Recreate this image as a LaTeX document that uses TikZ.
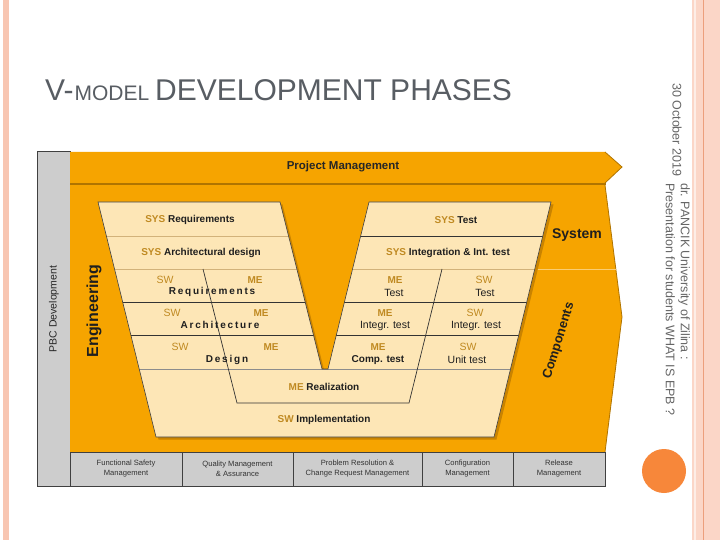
\documentclass[tikz,border=0pt]{standalone}
\usepackage{fontspec}
\setmainfont{Liberation Sans}
\usetikzlibrary{calc}
\definecolor{vorange}{HTML}{F6A400}
\definecolor{vdark}{HTML}{B07400}
\definecolor{vshadow}{HTML}{C98300}
\definecolor{vlight}{HTML}{FDE6B6}
\definecolor{vgold}{HTML}{C08A22}
\definecolor{vgray}{HTML}{CDCDCD}
\definecolor{vtitle}{HTML}{585D63}
\definecolor{vpink}{HTML}{F8C6B2}
\definecolor{vpinkl}{HTML}{FBD6C7}
\definecolor{vpinkd}{HTML}{EC9F7C}
\definecolor{vcircle}{HTML}{F7873A}
\definecolor{vtan}{HTML}{D2B27A}
\newcommand{\gd}[1]{\textcolor{vgold}{#1}}
\newcommand{\vshapepath}{(98,202) -- (280,202) -- (322,369) -- (328,369) -- (369,202) -- (551,202) -- (494,437) -- (156,437) -- cycle}
\tikzset{
  vt/.style={font=\fontsize{10}{12}\selectfont\bfseries, inner sep=0, text=black!88},
  vr/.style={font=\fontsize{10.5}{12}\selectfont, inner sep=0, text=black!88},
  vg/.style={font=\fontsize{10}{12}\selectfont\bfseries, inner sep=0, text=vgold},
  vgr/.style={font=\fontsize{10.5}{12}\selectfont, inner sep=0, text=vgold},
  vs/.style={font=\fontsize{10}{12}\selectfont\bfseries\addfontfeatures{LetterSpace=18}, inner sep=0, text=black!88},
  bbox/.style={draw=black!75, line width=1, fill=vgray, inner sep=0, align=center,
    minimum height=34, text=black!80, font=\fontsize{7.6}{10}\selectfont},
  tanline/.style={draw=vtan, line width=0.7},
  darkline/.style={draw=black!80, line width=0.7},
}
\begin{document}
\begin{tikzpicture}[x=1pt,y=-1pt]
\useasboundingbox (0,0) rectangle (720,540);
\fill[white] (0,0) rectangle (720,540);
% slide decorations
\fill[vpink] (3,0) rectangle (9,540);
\fill[vpinkl] (692,0) rectangle (720,540);
\draw[white!55!vpinkl, line width=1.5] (695,0) -- (695,540);
\draw[vpinkd, line width=1] (703,0) -- (703,540);
\fill[vcircle] (664,471) circle[radius=22pt];
% title
\node[anchor=base west, inner sep=0, text=vtitle] (title) at (45,101)
  {\fontsize{30}{36}\selectfont V-\hspace{1pt}{\fontsize{21}{24}\selectfont MODEL}\hspace{6pt}DEVELOPMENT PHASES};
% side texts
\node[rotate=-90, anchor=west, inner sep=0, text=black!60, font=\fontsize{12.5}{15}\selectfont] (date) at (677,83) {30 October 2019};
\node[rotate=-90, anchor=north west, inner sep=0, align=left, text=black!60, font=\fontsize{12.5}{15}\selectfont] (foot) at (690,183)
  {dr. PANCIK University of Zilina :\\Presentation for students WHAT IS EPB ?};
% PBC box
\node[draw=black!75, line width=1, fill=vgray, minimum width=33, minimum height=334, inner sep=0] (pbc) at (53.5,319) {};
\node[rotate=90, inner sep=0, text=black!85, font=\fontsize{10.5}{12}\selectfont] (pbct) at (54,309) {PBC Development};
% orange body
\fill[vorange] (70,185) -- (605,185) -- (622,317) -- (605,452) -- (70,452) -- cycle;
\draw[vdark, line width=0.8] (605,185) -- (622,317) -- (605,452);
% project management band
\fill[vorange] (70,152) -- (605,152) -- (622,167) -- (605,183) -- (70,183) -- cycle;
\draw[vdark, line width=0.8] (605,152) -- (622,167) -- (605,183);
\draw[vdark, line width=2] (70,184) -- (606,184);
\node[inner sep=0, text=black!85, font=\fontsize{11.5}{13}\selectfont\bfseries] (pm) at (343,167) {Project Management};
% faint separator System / Components
\draw[white!45!vorange, line width=0.6] (534,269) -- (616,269);
% V shape
\fill[vshadow, shift={(2.5,2.5)}] \vshapepath;
\fill[vlight] \vshapepath;
\begin{scope}
\clip \vshapepath;
\draw[tanline] (90,236) -- (325,236);
\draw[tanline] (90,269) -- (325,269);
\draw[darkline] (90,302) -- (325,302);
\draw[darkline] (90,335) -- (325,335);
\draw[darkline] (325,236) -- (560,236);
\draw[tanline] (325,269) -- (560,269);
\draw[darkline] (325,302) -- (560,302);
\draw[darkline] (325,335) -- (560,335);
\draw[draw=black!45, line width=0.7] (90,369) -- (560,369);
\end{scope}
\draw[black!75, line width=0.6] \vshapepath;
\draw[black!80, line width=0.7] (203,269) -- (237,403) -- (409,403) -- (442,269);
% left texts
\node[vt] (sysreq) at (190,220) {\gd{SYS} Requirements};
\node[vt] (sysarch) at (201,253) {\gd{SYS} Architectural design};
\node[vgr] (swreq) at (165,280) {SW};
\node[vg] (mereq) at (255,280) {ME};
\node[vs] (req) at (212,292) {Requirements};
\node[vgr] (swarch) at (172,313) {SW};
\node[vg] (mearch) at (261,313) {ME};
\node[vs] (arch) at (220,325) {Architecture};
\node[vgr] (swdes) at (180,347) {SW};
\node[vg] (medes) at (271,347) {ME};
\node[vs] (des) at (227,360) {Design};
\node[vt] (mereal) at (324,387) {\gd{ME} Realization};
\node[vt] (swimpl) at (324,420) {\gd{SW} Implementation};
% right texts
\node[vt] (systest) at (456,220) {\gd{SYS} Test};
\node[vt] (sysint) at (448,253) {\gd{SYS} Integration \& Int. test};
\node[vg] (metest) at (395,280) {ME};
\node[vr] (metestt) at (394,293) {Test};
\node[vgr] (swtest) at (484,280) {SW};
\node[vr] (swtestt) at (485,293) {Test};
\node[vg] (meint) at (385,313) {ME};
\node[vr] (meintt) at (385,326) {Integr. test};
\node[vgr] (swint) at (475,313) {SW};
\node[vr] (swintt) at (476,326) {Integr. test};
\node[vg] (mecomp) at (378,347) {ME};
\node[vt] (mecompt) at (378,360) {Comp. test};
\node[vgr] (swunit) at (468,347) {SW};
\node[vr] (swunitt) at (467,360) {Unit test};
% side labels
\node[inner sep=0, text=black!88, font=\fontsize{14}{16}\selectfont\bfseries] (system) at (577,235) {System};
\node[rotate=73, inner sep=0, text=black!88, font=\fontsize{13}{15}\selectfont\bfseries] (comp) at (559,341) {Components};
\node[rotate=90, inner sep=0, text=black!88, font=\fontsize{16}{18}\selectfont\bfseries] (eng) at (94,311) {Engineering};
% bottom boxes
\node[bbox, minimum width=112] (fsm) at (126,469) {Functional Safety\\Management};
\node[bbox, minimum width=111] (qma) at (237.5,469) {Quality Management\\\& Assurance};
\node[bbox, minimum width=129] (prm) at (357.5,469) {Problem Resolution \&\\Change Request Management};
\node[bbox, minimum width=91] (cfm) at (467.5,469) {Configuration\\Management};
\node[bbox, minimum width=92] (rlm) at (559,469) {Release\\Management};
\end{tikzpicture}
\end{document}
